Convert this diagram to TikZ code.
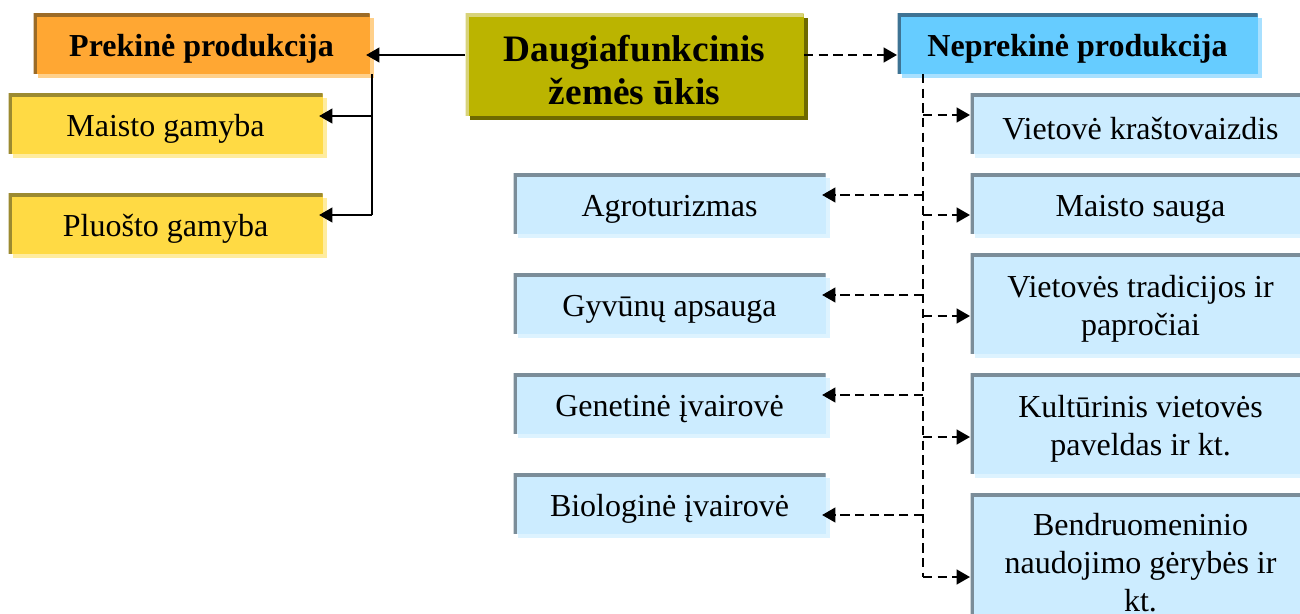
\documentclass[tikz,border=0pt]{standalone}
\usepackage{fontspec}
\setmainfont{Liberation Serif}
\usepackage{tikz}
\usetikzlibrary{arrows.meta, shadows}

\definecolor{oliveFill}{HTML}{BBB400}
\definecolor{oliveEdge}{HTML}{D8D37A}
\definecolor{oliveShade}{HTML}{6E6A00}
\definecolor{orangeFill}{HTML}{FFA733}
\definecolor{orangeEdge}{HTML}{9C6B26}
\definecolor{orangeShade}{HTML}{FFD08A}
\definecolor{yellowFill}{HTML}{FFDA44}
\definecolor{yellowEdge}{HTML}{9C8A30}
\definecolor{yellowShade}{HTML}{FFEC9E}
\definecolor{blueFill}{HTML}{66CCFF}
\definecolor{blueEdge}{HTML}{3E7394}
\definecolor{blueShade}{HTML}{A8E0FF}
\definecolor{lightFill}{HTML}{CCECFF}
\definecolor{lightEdge}{HTML}{7B8D99}
\definecolor{lightShade}{HTML}{DDF3FF}

\newcommand{\px}{0.375pt}

\begin{document}
\begin{tikzpicture}[x=\px, y=-\px,
    box/.style n args={3}{fill=#1, inner sep=0pt, anchor=north west,
        drop shadow={shadow xshift=1.5pt, shadow yshift=-1.5pt, fill=#3, opacity=1},
        path picture={\draw[#2, line width=2.4pt] (path picture bounding box.south west)
            -- (path picture bounding box.north west) -- (path picture bounding box.north east);}},
    txt/.style={font=\fontsize{12}{14.2}\selectfont, align=center, yshift=-2pt},
    head/.style={font=\fontsize{12}{14.2}\selectfont\bfseries, align=center, yshift=-2pt},
    solidarr/.style={-{Triangle[length=5pt,width=5.5pt]}, line width=0.85pt},
    dashline/.style={line width=0.85pt, dash pattern=on 3.5pt off 2pt},
    dasharr/.style={dashline, -{Triangle[length=5pt,width=5.5pt]}}]
    \useasboundingbox (0,0) rectangle (1300,614);
    \clip (0,0) rectangle (1300,614);

    \node[box={oliveFill}{oliveEdge}{oliveShade}, minimum width=338*\px, minimum height=102*\px,
        label={[font=\fontsize{14}{16}\selectfont\bfseries, align=center, yshift=-2pt]center:{Daugiafunkcinis\\žemės ūkis}}]
        (dau) at (465,13) {};
    \node[box={orangeFill}{orangeEdge}{orangeShade}, minimum width=336*\px, minimum height=60*\px,
        label={[head]center:Prekinė produkcija}] (pre) at (33,13) {};
    \node[box={blueFill}{blueEdge}{blueShade}, minimum width=360*\px, minimum height=60*\px,
        label={[head]center:Neprekinė produkcija}] (nep) at (897,13) {};

    \foreach \nm/\y/\lbl in {mai/93/Maisto gamyba, plu/193/Pluošto gamyba} {
        \node[box={yellowFill}{yellowEdge}{yellowShade}, minimum width=314*\px, minimum height=60*\px,
            label={[txt]center:\lbl}] (\nm) at (8,\y) {};
    }
    \foreach \nm/\y/\lbl in {agr/173/Agroturizmas, gyv/273/Gyvūnų apsauga,
            gen/373/Genetinė įvairovė, bio/473/Biologinė įvairovė} {
        \node[box={lightFill}{lightEdge}{lightShade}, minimum width=312*\px, minimum height=60*\px,
            label={[txt]center:\lbl}] (\nm) at (513,\y) {};
    }
    \foreach \nm/\y/\h/\lbl in {vie/93/60/{Vietovė kraštovaizdis}, msa/173/60/{Maisto sauga},
            tra/253/100/{Vietovės tradicijos ir\\papročiai}, kul/373/100/{Kultūrinis vietovės\\paveldas ir kt.}} {
        \node[box={lightFill}{lightEdge}{lightShade}, minimum width=340*\px, minimum height=\h*\px,
            label={[txt]center:{\lbl}}] (\nm) at (970,\y) {};
    }
    \node[box={lightFill}{lightEdge}{lightShade}, minimum width=340*\px, minimum height=140*\px,
        label={[txt, yshift=2.4pt]center:{Bendruomeninio\\naudojimo gėrybės ir\\kt.}}] (ben) at (970,493) {};

    \coordinate (h) at (0,55);
    \draw[solidarr, shorten >=-1.5pt] (dau.west |- h) -- (pre.east |- h);
    \draw[dasharr] (dau.east |- h) -- (nep.west |- h);

    \foreach \nm/\y in {mai/116, plu/215} {
        \coordinate (s\nm) at (372,\y);
        \draw[solidarr, shorten >=-1.5pt] (s\nm) -- (\nm.east |- s\nm);
    }
    \draw[line width=0.85pt] (pre.south -| splu) -- (splu);

    \foreach \nm/\y in {vie/115, msa/215, tra/316, kul/437, ben/577} {
        \coordinate (t\nm) at (923,\y);
        \draw[dasharr] (t\nm) -- (\nm.west |- t\nm);
    }
    \foreach \nm/\y in {agr/195, gyv/295, gen/395, bio/515} {
        \coordinate (u\nm) at (923,\y);
        \draw[dasharr, shorten >=-1.5pt] (u\nm) -- (\nm.east |- u\nm);
    }
    \draw[dashline] (nep.south -| tvie) -- (tben);
\end{tikzpicture}
\end{document}
